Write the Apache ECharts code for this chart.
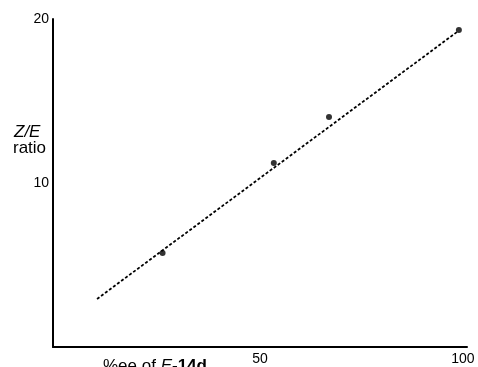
<!DOCTYPE html>
<html>
<head>
<meta charset="utf-8">
<script src="https://cdn.jsdelivr.net/npm/echarts@6/dist/echarts.min.js"></script>
<style>
  html, body { margin: 0; padding: 0; background: #fff; }
  #chart { width: 478px; height: 367px; }
</style>
</head>
<body>
<div id="chart"></div>
<script>
// measured points (%ee, Z/E ratio)
const eeVals = [26, 53.4, 67, 99];
const ratioVals = [5.73, 11.22, 14.02, 19.33];
// ends of the dashed fit line
const fitX = [9.85, 98.5];
const fitY = [2.93, 19.2];
const xTicks = [50, 100];
const yTicks = [10, 20];

let mychart = echarts.init(document.getElementById('chart'));
const font = 'Liberation Sans, Arial, sans-serif';

mychart.setOption({
  animation: false,
  grid: { left: 53, right: 11, top: 19, bottom: 20 },
  xAxis: {
    type: 'value',
    min: -1,
    max: 101,
    interval: 1,
    axisLine: { show: true, onZero: false, lineStyle: { color: '#000', width: 2 } },
    axisTick: { show: false },
    splitLine: { show: false },
    axisLabel: {
      color: '#000',
      fontSize: 14,
      fontFamily: font,
      margin: 5,
      showMinLabel: false,
      showMaxLabel: false,
      formatter: v => (xTicks.includes(v) ? String(v) : '')
    }
  },
  yAxis: {
    type: 'value',
    min: 0,
    max: 20,
    interval: 10,
    axisLine: { show: true, onZero: false, lineStyle: { color: '#000', width: 2 } },
    axisTick: { show: false },
    splitLine: { show: false },
    axisLabel: {
      color: '#000',
      fontSize: 14,
      fontFamily: font,
      margin: 4,
      formatter: v => (yTicks.includes(v) ? String(v) : '')
    }
  },
  graphic: [
    {
      type: 'text',
      left: 14, top: 124,
      style: { text: 'Z/E', font: 'italic 17px ' + font, fill: '#000' }
    },
    {
      type: 'text',
      left: 13, top: 140,
      style: { text: 'ratio', font: '17px ' + font, fill: '#000' }
    },
    {
      type: 'text',
      x: 103, y: 366,
      style: {
        text: '{n|%ee of }{i|E}{b|-14d}',
        verticalAlign: 'middle',
        rich: {
          n: { fontSize: 17, fontFamily: font, color: '#000' },
          i: { fontSize: 17, fontFamily: font, fontStyle: 'italic', color: '#000' },
          b: { fontSize: 17, fontFamily: font, fontWeight: 'bold', color: '#000' }
        }
      }
    }
  ],
  series: [
    {
      type: 'line',
      data: fitX.map((x, i) => [x, fitY[i]]),
      symbol: 'none',
      lineStyle: { color: '#000', width: 1.8, type: [3, 2] },
      z: 2
    },
    {
      type: 'scatter',
      data: eeVals.map((x, i) => [x, ratioVals[i]]),
      symbolSize: 6,
      itemStyle: { color: '#000' },
      z: 3
    }
  ]
});
</script>
</body>
</html>
